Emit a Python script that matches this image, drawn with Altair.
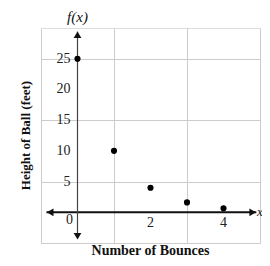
import altair as alt
import pandas as pd

bounces = [0, 1, 2, 3, 4]
heights = [25, 10, 4, 1.6, 0.64]
y_tick_vals = [5, 10, 15, 20, 25]
x_tick_vals = [2, 4]
x_grid = [-1, 0, 1, 2, 3, 4, 5]
y_grid = [-5, 0, 5, 10, 15, 20, 25, 30]

FONT = "Liberation Serif"
W, H = 219, 215

xs = alt.Scale(domain=[-1, 5], nice=False, zero=False)
ys = alt.Scale(domain=[-5, 30], nice=False, zero=False)

pts_df = pd.DataFrame({"x": bounces, "y": heights})

base_x = alt.X("x:Q", scale=xs,
               axis=alt.Axis(values=x_grid, grid=True, gridColor="#cccccc", gridWidth=1,
                             labels=False, ticks=False, domain=False, title=None))
base_y = alt.Y("y:Q", scale=ys,
               axis=alt.Axis(values=y_grid, grid=True, gridColor="#cccccc", gridWidth=1,
                             labels=False, ticks=False, domain=False, title=None))

grid_layer = alt.Chart(pts_df).mark_point(opacity=0).encode(x=base_x, y=base_y)

# axis lines
xaxis_df = pd.DataFrame({"x": [-0.85], "x2": [4.9], "y": [0]})
yaxis_df = pd.DataFrame({"x": [0], "y": [-4.2], "y2": [29.4]})
xaxis = alt.Chart(xaxis_df).mark_rule(color="#111111", strokeWidth=2).encode(
    x=alt.X("x:Q", scale=xs), x2="x2:Q", y=alt.Y("y:Q", scale=ys))
yaxis = alt.Chart(yaxis_df).mark_rule(color="#444444", strokeWidth=1.2).encode(
    x=alt.X("x:Q", scale=xs), y=alt.Y("y:Q", scale=ys), y2="y2:Q")

arrow_df = pd.DataFrame({
    "x": [0, 0, -0.75, 4.8],
    "y": [28.9, -3.9, 0, 0],
    "shape": ["triangle-up", "triangle-down", "triangle-left", "triangle-right"],
})
arrows = alt.Chart(arrow_df).mark_point(filled=True, color="#111111", opacity=1, size=60).encode(
    x=alt.X("x:Q", scale=xs), y=alt.Y("y:Q", scale=ys),
    shape=alt.Shape("shape:N", scale=None, legend=None))

points = alt.Chart(pts_df).mark_circle(color="#000000", size=38, opacity=1).encode(
    x=alt.X("x:Q", scale=xs), y=alt.Y("y:Q", scale=ys))

ylab_df = pd.DataFrame({"x": [0] * len(y_tick_vals), "y": y_tick_vals,
                        "t": [str(v) for v in y_tick_vals]})
ylabs = alt.Chart(ylab_df).mark_text(font=FONT, fontSize=14, color="#222222",
                                     align="right", baseline="middle", dx=-7).encode(
    x=alt.X("x:Q", scale=xs), y=alt.Y("y:Q", scale=ys), text="t:N")

xlab_df = pd.DataFrame({"x": x_tick_vals, "y": [0] * len(x_tick_vals),
                        "t": [str(v) for v in x_tick_vals]})
xlabs = alt.Chart(xlab_df).mark_text(font=FONT, fontSize=14, color="#222222",
                                     align="center", baseline="middle", dy=11).encode(
    x=alt.X("x:Q", scale=xs), y=alt.Y("y:Q", scale=ys), text="t:N")

zero_df = pd.DataFrame({"x": [0], "y": [0], "t": ["0"]})
zerolab = alt.Chart(zero_df).mark_text(font=FONT, fontSize=14, color="#222222",
                                       align="center", baseline="middle", dx=-8, dy=8).encode(
    x=alt.X("x:Q", scale=xs), y=alt.Y("y:Q", scale=ys), text="t:N")

fx_df = pd.DataFrame({"x": [0], "t": ["f(x)"]})
fx = alt.Chart(fx_df).mark_text(font=FONT, fontSize=15, fontStyle="italic", color="#111111",
                                align="center", baseline="middle").encode(
    x=alt.X("x:Q", scale=xs), y=alt.value(-11), text="t:N")

xname_df = pd.DataFrame({"y": [0], "t": ["x"]})
xname = alt.Chart(xname_df).mark_text(font=FONT, fontSize=13, fontStyle="italic", color="#111111",
                                      align="left", baseline="middle", dx=-3).encode(
    x=alt.value(W), y=alt.Y("y:Q", scale=ys), text="t:N")

xt_df = pd.DataFrame({"x": [2], "t": ["Number of Bounces"]})
xtitle = alt.Chart(xt_df).mark_text(font=FONT, fontSize=14, fontWeight="bold", color="#111111",
                                    align="center", baseline="middle").encode(
    x=alt.X("x:Q", scale=xs), y=alt.value(H + 8), text="t:N")

yt_df = pd.DataFrame({"y": [12.5], "t": ["Height of Ball (feet)"]})
ytitle = alt.Chart(yt_df).mark_text(font=FONT, fontSize=13, fontWeight="bold", color="#111111",
                                    align="center", baseline="middle", angle=270).encode(
    x=alt.value(-15), y=alt.Y("y:Q", scale=ys), text="t:N")

chart = alt.layer(grid_layer, xaxis, yaxis, arrows, points, ylabs, xlabs, zerolab,
                  fx, xname, xtitle, ytitle).properties(
    width=W, height=H,
    autosize=alt.AutoSizeParams(type="none"),
    padding={"left": 33, "top": 20, "right": 2, "bottom": 15},
).configure_view(stroke=None).configure(background="white")

chart.save("out.html", embed_options={"renderer": "svg", "actions": False})
